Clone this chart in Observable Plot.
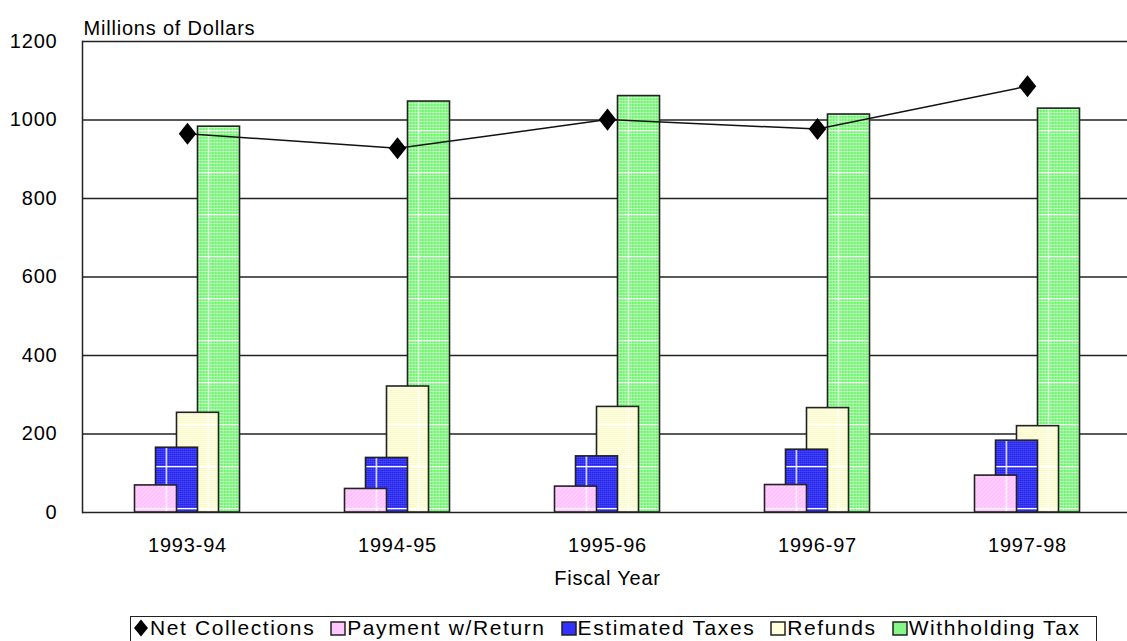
<!DOCTYPE html>
<html>
<head>
<meta charset="utf-8">
<script src="https://cdn.jsdelivr.net/npm/d3@7"></script>
<script src="https://cdn.jsdelivr.net/npm/@observablehq/plot@0.6"></script>
<style>
  html, body { margin: 0; padding: 0; background: #fff; }
  #wrap { position: relative; width: 1127px; height: 641px; overflow: hidden;
          font-family: "Liberation Sans", Arial, sans-serif; color: #000; }
  #wrap > svg { position: absolute; left: 0; top: 0; }
  #legend { position: absolute; left: 130px; top: 616px; width: 967px; height: 40px;
            border: 1.5px solid #222; box-sizing: border-box; background: #fff;
            display: flex; align-items: flex-start; padding: 1px 0 0 2px;
            font-size: 21px; letter-spacing: 1.6px; white-space: nowrap; }
  #legend .item { display: flex; align-items: center; margin-right: 15px; line-height: 20px; }
  #legend svg { display: block; margin-right: 1px; }
</style>
</head>
<body>
<div id="wrap"></div>
<script>
// Fiscal years and amounts (millions of dollars)
const years = ["1993-94", "1994-95", "1995-96", "1996-97", "1997-98"];
const netCollections = [965, 928, 1001, 977, 1086];
const paymentWithReturn = [69, 60, 66, 70, 94];
const estimatedTaxes = [165, 139, 143, 160, 183];
const refunds = [254, 321, 269, 266, 220];
const withholdingTax = [983, 1047, 1061, 1014, 1029];
const yTicks = [0, 200, 400, 600, 800, 1000, 1200];

const rows = years.map((year, i) => ({
  year,
  net: netCollections[i],
  payment: paymentWithReturn[i],
  estimated: estimatedTaxes[i],
  refunds: refunds[i],
  withholding: withholdingTax[i]
}));

// Series drawn back to front; each bar sits at its own slot inside the year band
const bandW = 210, barW = 42, step = 21, lead = 52.5;
const series = [
  {key: "withholding", label: "Withholding Tax", slot: 3, fill: "url(#pat-withholding)", swatch: "#86f786"},
  {key: "refunds",     label: "Refunds",         slot: 2, fill: "url(#pat-refunds)",     swatch: "#ffffdc"},
  {key: "estimated",   label: "Estimated Taxes", slot: 1, fill: "url(#pat-estimated)",   swatch: "#3333ff"},
  {key: "payment",     label: "Payment w/Return",slot: 0, fill: "url(#pat-payment)",     swatch: "#ffc6ff"}
];

// Slightly tall diamond marker
const diamond = {
  draw(ctx, size) {
    const r = Math.sqrt(size / Math.PI);
    ctx.moveTo(0, -1.2 * r);
    ctx.lineTo(0.95 * r, 0);
    ctx.lineTo(0, 1.2 * r);
    ctx.lineTo(-0.95 * r, 0);
    ctx.closePath();
  }
};

const barMarks = series.map(s => Plot.barY(rows, {
  x: "year",
  y: s.key,
  fill: s.fill,
  stroke: "#222",
  strokeWidth: 1.6,
  insetLeft: lead + step * s.slot,
  insetRight: bandW - barW - lead - step * s.slot
}));

const chart = Plot.plot({
  width: 1127,
  height: 600,
  marginLeft: 82,
  marginRight: -5,
  marginTop: 41,
  marginBottom: 88,
  style: {fontFamily: "Liberation Sans, Arial, sans-serif", fontSize: "20px", color: "#000", letterSpacing: "0.8px", background: "transparent"},
  x: {domain: years, padding: 0, label: null},
  y: {domain: [0, 1200], label: null},
  marks: [
    Plot.gridY(yTicks, {stroke: "#222", strokeOpacity: 1, strokeWidth: 1.5}),
    Plot.frame({anchor: "left", stroke: "#222", strokeWidth: 1.5}),
    ...barMarks,
    Plot.line(rows, {x: "year", y: "net", stroke: "#111", strokeWidth: 1.5}),
    Plot.dot(rows, {x: "year", y: "net", symbol: diamond, r: 9.2, fill: "#000", stroke: "none"}),
    Plot.axisY(yTicks, {tickSize: 0, tickPadding: 25, tickFormat: d => String(d), label: null}),
    Plot.axisX({tickSize: 0, tickPadding: 25, label: null}),
    Plot.text(["Millions of Dollars"], {frameAnchor: "top-left", textAnchor: "start", dx: 1, dy: -21}),
    Plot.text(["Fiscal Year"], {frameAnchor: "bottom", dy: 72})
  ]
});

// Fill patterns for the bars
const defs = d3.select(chart).insert("defs", ":first-child");
function tile(id, base, fine) {
  // fine texture
  const f = defs.append("pattern").attr("id", id + "-fine")
    .attr("patternUnits", "userSpaceOnUse").attr("width", fine.w).attr("height", fine.h);
  f.append("rect").attr("width", fine.w).attr("height", fine.h).attr("fill", base);
  fine.draw(f);
  // coarse white grid over the texture
  const p = defs.append("pattern").attr("id", id)
    .attr("patternUnits", "userSpaceOnUse").attr("width", 42).attr("height", 42)
    .attr("x", 39.7).attr("y", 4);
  p.append("rect").attr("width", 42).attr("height", 42).attr("fill", `url(#${id}-fine)`);
  p.append("path").attr("d", "M0.5,0V42M0,0.5H42").attr("stroke", "#fff").attr("stroke-width", 1.6);
}
tile("pat-withholding", "#6af56a", {w: 3, h: 3, draw: g =>
  g.append("path").attr("d", "M0.5,0V3M0,0.5H3").attr("stroke", "#fff").attr("stroke-opacity", 0.45).attr("stroke-width", 1)});
tile("pat-refunds", "#ffffe6", {w: 2, h: 2, draw: g =>
  g.append("rect").attr("width", 1).attr("height", 1).attr("fill", "#f6f6aa")});
tile("pat-estimated", "#3838ff", {w: 2, h: 2, draw: g => {
  g.append("rect").attr("width", 1).attr("height", 1).attr("fill", "#1c1cc8");
  g.append("rect").attr("x", 1).attr("y", 1).attr("width", 1).attr("height", 1).attr("fill", "#4a4aff");
}});
tile("pat-payment", "#ffc2ff", {w: 4, h: 4, draw: g =>
  g.append("path").attr("d", "M0,4L4,0M-1,1L1,-1M3,5L5,3").attr("stroke", "#ffd8ff").attr("stroke-width", 1)});

const wrap = document.getElementById("wrap");
wrap.appendChild(chart);

// Legend box below the chart
const legend = d3.select(wrap).append("div").attr("id", "legend");
const items = [{label: "Net Collections", marker: true}, ...series.slice().reverse()];
for (const it of items) {
  const item = legend.append("div").attr("class", "item");
  const sw = item.append("svg").attr("width", 16).attr("height", 18);
  if (it.marker) {
    sw.append("path").attr("d", "M8,0.5L15,9L8,17.5L1,9Z").attr("fill", "#000");
  } else {
    sw.append("rect").attr("x", 1).attr("y", 3).attr("width", 14).attr("height", 13)
      .attr("fill", it.swatch).attr("stroke", "#222").attr("stroke-width", 1.5);
  }
  item.append("span").text(it.label);
}
</script>
</body>
</html>
